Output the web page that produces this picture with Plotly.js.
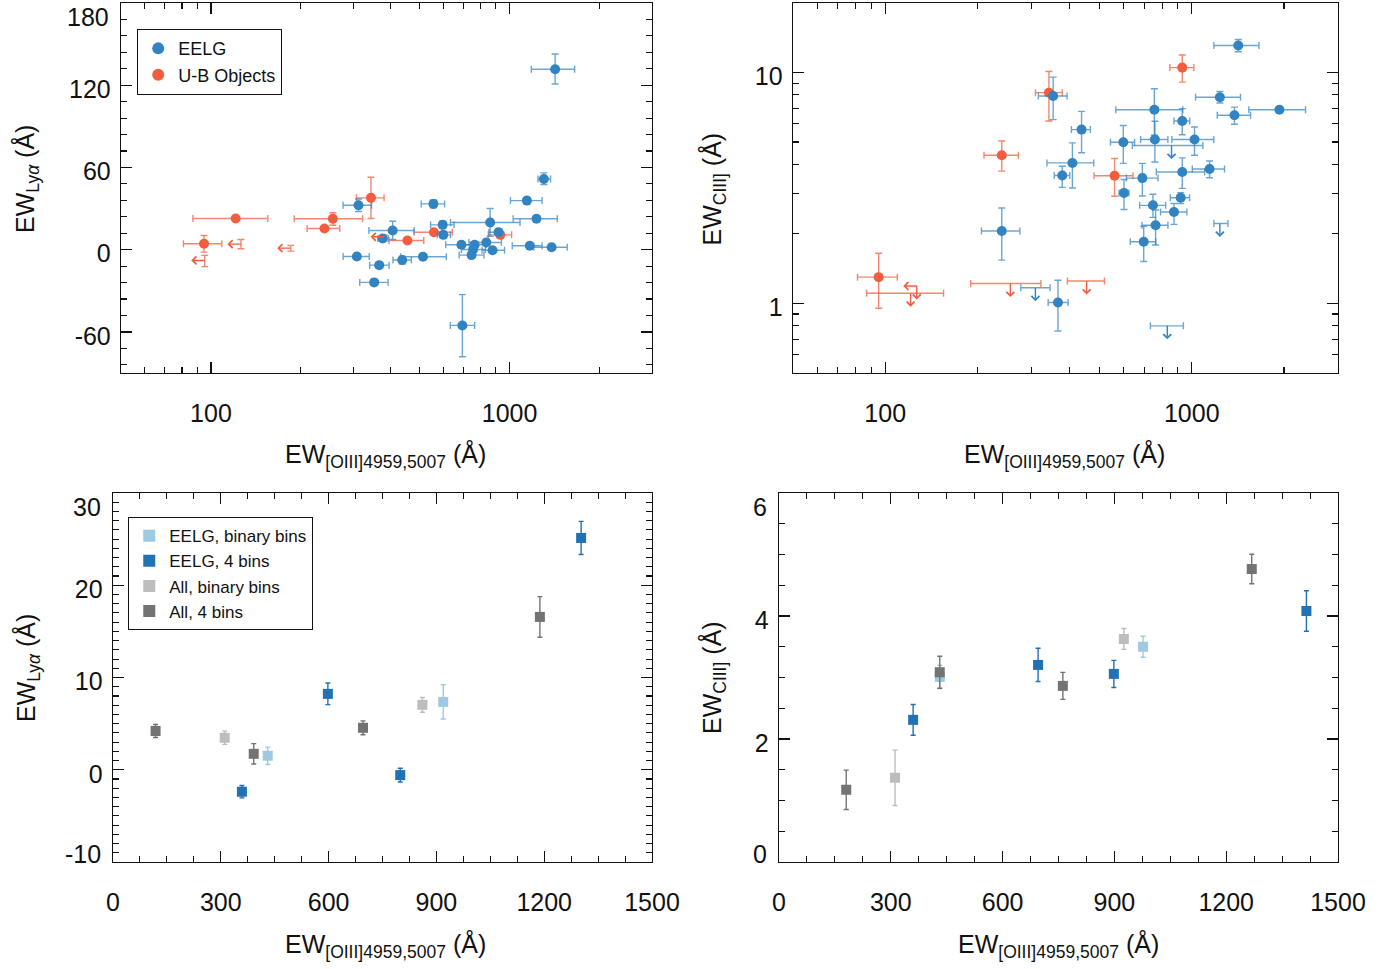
<!DOCTYPE html>
<html><head><meta charset="utf-8">
<script src="https://cdn.plot.ly/plotly-3.0.1.min.js"></script>
<style>html,body{margin:0;padding:0;background:#fff}#chart{width:1398px;height:969px}</style>
</head><body><div id="chart"></div>
<script>
// ---------- Top-left: EW[OIII] vs EW(Lya) ----------
const tlEelgX   = [312, 406, 308, 366, 352, 437, 513, 376, 556, 597, 600, 690, 764, 755, 746, 836, 877, 861, 918, 1143, 1303, 1231, 1169, 1383, 1421, 695];
const tlEelgXlo = [277, 338, 277, 340, 315, 407, 432, 362, 506, 544, 573, 611, 700, 690, 678, 731, 809, 634, 853, 1007, 1245, 1028, 1021, 1205, 1183, 633];
const tlEelgXhi = [345, 479, 339, 395, 392, 469, 614, 392, 606, 652, 634, 780, 835, 830, 821, 939, 962, 1084, 946, 1285, 1372, 1445, 1285, 1560, 1652, 764];
const tlEelgY   = [32.4, 14.0, -5.0, -11.3, -23.9, -7.6, -5.2, 8.2, 33.4, 18.1, 10.8, 3.6, 3.6, 0.1, -4.0, 5.2, -0.4, 19.8, 12.7, 35.8, 51.6, 22.5, 2.8, 1.8, 131.6, -55.3];
const tlEelgYlo = [27.8, 7.4, -7.0, -13.3, -26.0, -10.5, -7.0, 6.0, 30.5, 15.5, 8.5, 1.5, 1.5, -2.0, -6.0, 3.0, -2.4, 9.8, 10.5, 33.8, 47.5, 20.5, 0.8, -0.2, 120.9, -78.2];
const tlEelgYhi = [37.0, 20.7, -3.0, -9.3, -21.8, -4.7, -3.4, 10.4, 36.3, 20.7, 13.1, 5.7, 5.7, 2.2, -2.0, 7.4, 1.6, 30.0, 14.9, 37.8, 56.0, 24.5, 4.8, 3.8, 142.8, -32.8];

const tlUbX   = [121, 94.8, 256, 240, 343.5, 455, 558, 931];
const tlUbXlo = [87, 80.9, 190, 210, 307, 395, 479, 849];
const tlUbXhi = [155, 108.7, 322, 270, 380, 516, 643, 1016];
const tlUbY   = [22.7, 4.3, 22.5, 15.4, 37.8, 6.7, 12.7, 10.8];
const tlUbYlo = [22.7, -1.8, 17.8, 15.4, 22.7, 4.7, 11.2, 9.0];
const tlUbYhi = [22.7, 10.3, 26.9, 15.4, 52.8, 8.7, 14.2, 12.6];
// U-B objects with upper limits on EW[OIII] (arrow to the left)
const tlUbLimX   = [126, 95.3, 185, 380];
const tlUbLimY   = [4.0, -7.9, 1.1, 9.4];
const tlUbLimYlo = [0.6, -12.4, -1.1, 8.0];
const tlUbLimYhi = [7.4, -4.2, 3.1, 10.8];

// ---------- Top-right: EW[OIII] vs EW(CIII]) ----------
const trEelgX   = [353, 437, 408, 378, 240, 366, 1418, 1235, 1932, 1378, 755, 931, 598, 758, 1021, 1143, 931, 690, 601, 920, 747, 875, 762, 697];
const trEelgXlo = [316, 405, 337, 356, 206, 340, 1181, 1029, 1535, 1211, 565, 875, 543, 681, 861, 1004, 766, 612, 579, 851, 676, 791, 688, 630];
const trEelgXhi = [392, 467, 479, 400, 275, 395, 1656, 1442, 2350, 1556, 935, 985, 651, 836, 1180, 1279, 1101, 776, 624, 984, 822, 964, 836, 763];
const trEelgY   = [7.91, 5.66, 4.06, 3.58, 2.06, 1.01, 13.1, 7.81, 6.90, 6.53, 6.90, 6.17, 4.99, 5.13, 5.13, 3.82, 3.71, 3.49, 3.01, 2.87, 2.66, 2.49, 2.18, 1.85];
const trEelgYlo = [6.25, 4.49, 3.16, 3.18, 1.54, 0.76, 12.3, 7.38, 6.75, 5.97, 5.35, 5.38, 4.04, 4.10, 4.38, 3.50, 3.15, 2.92, 2.55, 2.71, 2.36, 2.20, 1.79, 1.52];
const trEelgYhi = [9.55, 6.79, 4.96, 3.93, 2.59, 1.26, 13.9, 8.28, 7.05, 7.08, 8.51, 6.98, 5.90, 6.15, 5.81, 4.14, 4.27, 4.04, 3.44, 3.02, 2.97, 2.71, 2.54, 2.16];
// EELGs with upper limits on EW(CIII])
const trEelgLimX   = [309, 859, 1235, 832];
const trEelgLimXlo = [277, 640, 1181, 733];
const trEelgLimXhi = [345, 1087, 1312, 939];
const trEelgLimY   = [1.17, 4.83, 2.22, 0.80];

const trUbX   = [342, 240, 560, 931, 95.2];
const trUbXlo = [309, 210, 480, 848, 81.2];
const trUbXhi = [378, 272, 643, 1016, 109.5];
const trUbY   = [8.18, 4.38, 3.57, 10.5, 1.30];
const trUbYlo = [6.17, 3.74, 2.91, 9.09, 0.953];
const trUbYhi = [10.1, 5.05, 4.24, 11.9, 1.65];
// U-B objects with upper limits on EW(CIII])
const trUbLimX   = [121, 256, 454];
const trUbLimXlo = [87, 190, 393];
const trUbLimXhi = [155, 322, 519];
const trUbLimY   = [1.107, 1.22, 1.25];
// U-B object with upper limits on both axes
const trUbBothLimX = [126.7];
const trUbBothLimY = [1.19];

// ---------- Bottom-left: stacked EW(Lya) ----------
const blEelgBinX = [430.6, 919];                const blEelgBinY = [1.52, 7.36];  const blEelgBinErr = [0.94, 1.85];
const blEelg4X   = [358.8, 598, 799.4, 1302.7]; const blEelg4Y = [-2.38, 8.23, -0.58, 25.13]; const blEelg4Err = [0.67, 1.17, 0.74, 1.8];
const blAllBinX  = [311, 861];                  const blAllBinY  = [3.47, 7.04];  const blAllBinErr = [0.72, 0.8];
const blAll4X    = [118.6, 391.7, 695.7, 1188]; const blAll4Y = [4.2, 1.73, 4.55, 16.57]; const blAll4Err = [0.7, 1.1, 0.75, 2.2];

// ---------- Bottom-right: stacked EW(CIII]) ----------
const brEelgBinX = [431.4, 976.9];                const brEelgBinY = [3.01, 3.50];  const brEelgBinErr = [0.19, 0.17];
const brEelg4X   = [360, 695.2, 898.5, 1415.2];   const brEelg4Y = [2.312, 3.205, 3.059, 4.082]; const brEelg4Err = [0.25, 0.27, 0.22, 0.33];
const brAllBinX  = [311.4, 925.3];                const brAllBinY  = [1.37, 3.627]; const brAllBinErr = [0.45, 0.17];
const brAll4X    = [180.5, 431.4, 761.7, 1268.5]; const brAll4Y = [1.175, 3.086, 2.864, 4.764]; const brAll4Err = [0.32, 0.26, 0.22, 0.24];

// ---------- Ticks ----------
const logXTicks = [100, 1000];      const logXLabels = ['100', '1000'];
const tlYTicks = [-60, 0, 60, 120, 180]; const tlYLabels = ['-60', '0', '60', '120', '180'];
const trYTicks = [1, 10];            const trYLabels = ['1', '10'];
const linXTicks = [0, 300, 600, 900, 1200, 1500]; const linXLabels = ['0', '300', '600', '900', '1200', '1500'];
const blYTicks = [-10, 0, 10, 20, 30]; const blYLabels = ['-10', '0', '10', '20', '30'];
const brYTicks = [0, 2, 4, 6];       const brYLabels = ['0', '2', '4', '6'];

const legendNames = ['EELG', 'U-B Objects', 'EELG, binary bins', 'EELG, 4 bins', 'All, binary bins', 'All, 4 bins'];

// ---------- Styles ----------
const FONT = '"Liberation Sans", Arial, Helvetica, sans-serif';
const BLUE = '#3283c1', BLUE_ERR = 'rgba(50,131,193,0.72)';
const RED = '#f35d3f', RED_ERR = 'rgba(243,93,63,0.75)';
const C_EB = '#9ecae1', C_E4 = '#2171b5', C_AB = '#bdbdbd', C_A4 = '#737373';

const plus = (v, hi) => hi.map((h, i) => h - v[i]);
const minus = (v, lo) => lo.map((l, i) => v[i] - l);
const errX = (x, lo, hi, c) => ({type: 'data', symmetric: false, array: plus(x, hi), arrayminus: minus(x, lo), color: c, thickness: 1.4, width: 3.5});
const errY = (y, lo, hi, c) => ({type: 'data', symmetric: false, array: plus(y, hi), arrayminus: minus(y, lo), color: c, thickness: 1.4, width: 3.5});

const traces = [];
// top-left
traces.push({type: 'scatter', mode: 'markers', x: tlUbLimX, y: tlUbLimY, xaxis: 'x', yaxis: 'y', showlegend: false, hoverinfo: 'skip',
  marker: {size: 1, color: 'rgba(0,0,0,0)'}, error_y: errY(tlUbLimY, tlUbLimYlo, tlUbLimYhi, RED_ERR)});
traces.push({type: 'scatter', mode: 'markers', name: legendNames[1], x: tlUbX, y: tlUbY, xaxis: 'x', yaxis: 'y', legendrank: 2,
  marker: {size: 10, color: RED}, error_x: errX(tlUbX, tlUbXlo, tlUbXhi, RED_ERR), error_y: errY(tlUbY, tlUbYlo, tlUbYhi, RED_ERR)});
traces.push({type: 'scatter', mode: 'markers', name: legendNames[0], x: tlEelgX, y: tlEelgY, xaxis: 'x', yaxis: 'y', legendrank: 1,
  marker: {size: 10, color: BLUE}, error_x: errX(tlEelgX, tlEelgXlo, tlEelgXhi, BLUE_ERR), error_y: errY(tlEelgY, tlEelgYlo, tlEelgYhi, BLUE_ERR)});
// top-right
traces.push({type: 'scatter', mode: 'markers', x: trUbLimX, y: trUbLimY, xaxis: 'x2', yaxis: 'y2', showlegend: false, hoverinfo: 'skip',
  marker: {size: 1, color: 'rgba(0,0,0,0)'}, error_x: errX(trUbLimX, trUbLimXlo, trUbLimXhi, RED_ERR)});
traces.push({type: 'scatter', mode: 'markers', x: trUbX, y: trUbY, xaxis: 'x2', yaxis: 'y2', showlegend: false,
  marker: {size: 10, color: RED}, error_x: errX(trUbX, trUbXlo, trUbXhi, RED_ERR), error_y: errY(trUbY, trUbYlo, trUbYhi, RED_ERR)});
traces.push({type: 'scatter', mode: 'markers', x: trEelgLimX, y: trEelgLimY, xaxis: 'x2', yaxis: 'y2', showlegend: false, hoverinfo: 'skip',
  marker: {size: 1, color: 'rgba(0,0,0,0)'}, error_x: errX(trEelgLimX, trEelgLimXlo, trEelgLimXhi, BLUE_ERR)});
traces.push({type: 'scatter', mode: 'markers', x: trEelgX, y: trEelgY, xaxis: 'x2', yaxis: 'y2', showlegend: false,
  marker: {size: 10, color: BLUE}, error_x: errX(trEelgX, trEelgXlo, trEelgXhi, BLUE_ERR), error_y: errY(trEelgY, trEelgYlo, trEelgYhi, BLUE_ERR)});
// bottom panels
const sq = (x, y, e, c, name, xa, ya, show) => ({type: 'scatter', mode: 'markers', name: name, x: x, y: y, xaxis: xa, yaxis: ya,
  showlegend: show, legend: 'legend2', marker: {symbol: 'square', size: 10, color: c},
  error_y: {type: 'data', array: e, color: c, thickness: 1.4, width: 2.5}});
traces.push(sq(blEelgBinX, blEelgBinY, blEelgBinErr, C_EB, legendNames[2], 'x3', 'y3', true));
traces.push(sq(blEelg4X, blEelg4Y, blEelg4Err, C_E4, legendNames[3], 'x3', 'y3', true));
traces.push(sq(blAllBinX, blAllBinY, blAllBinErr, C_AB, legendNames[4], 'x3', 'y3', true));
traces.push(sq(blAll4X, blAll4Y, blAll4Err, C_A4, legendNames[5], 'x3', 'y3', true));
traces.push(sq(brEelgBinX, brEelgBinY, brEelgBinErr, C_EB, legendNames[2], 'x4', 'y4', false));
traces.push(sq(brEelg4X, brEelg4Y, brEelg4Err, C_E4, legendNames[3], 'x4', 'y4', false));
traces.push(sq(brAllBinX, brAllBinY, brAllBinErr, C_AB, legendNames[4], 'x4', 'y4', false));
traces.push(sq(brAll4X, brAll4Y, brAll4Err, C_A4, legendNames[5], 'x4', 'y4', false));

// ---------- Axes ----------
function linMinor(lo, hi, step, majors) {
  const v = [];
  for (let t = Math.ceil(lo / step) * step; t <= hi + 1e-9; t += step) {
    const r = Math.round(t * 1000) / 1000;
    if (!majors.some(m => Math.abs(m - r) < 1e-9)) v.push(r);
  }
  return v;
}
function logMinor(lo, hi) {
  const v = [];
  for (let e = -2; e < 5; e++) for (let d = 2; d <= 9; d++) {
    const t = d * Math.pow(10, e);
    if (t >= lo * 0.999 && t <= hi * 1.001) v.push(t);
  }
  return v;
}

const base = {showline: true, linecolor: '#111', linewidth: 1.3, mirror: 'allticks', ticks: 'inside', ticklen: 11,
  tickwidth: 1.3, tickcolor: '#111', showgrid: false, zeroline: false, tickmode: 'array',
  tickfont: {family: FONT, size: 25, color: '#111'}};
const minor = vals => ({tickmode: 'array', tickvals: vals, ticks: 'inside', ticklen: 6, tickwidth: 1.1, tickcolor: '#111', showgrid: false});
const xAx = (o) => Object.assign({}, base, {ticklabelstandoff: 18}, o);
const yAx = (o) => Object.assign({}, base, {ticklabelstandoff: 4, ticklabelshift: 4}, o);

const annotations = [];
// labels that sit on the top/bottom edge of a y axis are drawn nudged inward, as in the original figure
function edgeY(yref, xLeft, ticks, labels, range) {
  return labels.map((t, i) => {
    const v = ticks[i];
    const atTop = Math.abs(v - range[1]) < 1e-9, atBot = Math.abs(v - range[0]) < 1e-9;
    if (!atTop && !atBot) return t;
    annotations.push({xref: 'paper', yref: yref, x: xLeft, y: v, text: t, showarrow: false, xanchor: 'right', yanchor: 'middle',
      xshift: -10, yshift: atTop ? -14 : 8, font: {family: FONT, size: 25, color: '#111'}});
    return '';
  });
}

const dTopY = [0.6151, 0.9969], dBotY = [0.1104, 0.4912];
const tlYRange = [-90, 180], blYRange = [-10, 30], brYRange = [0, 6];
const layout = {
  width: 1398, height: 969, margin: {l: 0, r: 0, t: 0, b: 0}, paper_bgcolor: '#fff', plot_bgcolor: '#fff',
  font: {family: FONT, color: '#111'}, showlegend: true, hovermode: false,
  xaxis: xAx({type: 'log', domain: [0.0866, 0.4664], anchor: 'y', range: [Math.log10(50), Math.log10(3000)],
    tickvals: logXTicks, ticktext: logXLabels, minor: minor(logMinor(50, 3000))}),
  yaxis: yAx({domain: dTopY, anchor: 'x', range: tlYRange, tickvals: tlYTicks, ticktext: edgeY('y', 0.0866, tlYTicks, tlYLabels, tlYRange),
    minor: minor(linMinor(-90, 180, 12, tlYTicks))}),
  xaxis2: xAx({type: 'log', domain: [0.5672, 0.9571], anchor: 'y2', range: [Math.log10(50), Math.log10(3000)],
    tickvals: logXTicks, ticktext: logXLabels, minor: minor(logMinor(50, 3000))}),
  yaxis2: yAx({type: 'log', domain: dTopY, anchor: 'x2', range: [Math.log10(0.5), Math.log10(20)],
    tickvals: trYTicks, ticktext: trYLabels, minor: minor(logMinor(0.5, 20))}),
  xaxis3: xAx({domain: [0.0808, 0.4664], anchor: 'y3', range: [0, 1500], tickvals: linXTicks, ticktext: linXLabels,
    minor: minor(linMinor(0, 1500, 75, linXTicks))}),
  yaxis3: yAx({domain: dBotY, anchor: 'x3', range: blYRange, tickvals: blYTicks, ticktext: edgeY('y3', 0.0808, blYTicks, blYLabels, blYRange),
    minor: minor(linMinor(-10, 30, 1, blYTicks))}),
  xaxis4: xAx({domain: [0.5572, 0.9571], anchor: 'y4', range: [0, 1500], tickvals: linXTicks, ticktext: linXLabels,
    minor: minor(linMinor(0, 1500, 75, linXTicks))}),
  yaxis4: yAx({domain: dBotY, anchor: 'x4', range: brYRange, tickvals: brYTicks, ticktext: edgeY('y4', 0.5572, brYTicks, brYLabels, brYRange),
    minor: minor(linMinor(0, 6, 0.5, brYTicks))}),
  legend: {x: 0.098, y: 0.9701, xanchor: 'left', yanchor: 'top', bgcolor: '#fff', bordercolor: '#111', borderwidth: 1.2,
    font: {family: FONT, size: 18, color: '#111'}, tracegroupgap: 0, itemsizing: 'constant'},
  legend2: {x: 0.0916, y: 0.4665, xanchor: 'left', yanchor: 'top', bgcolor: '#fff', bordercolor: '#111', borderwidth: 1.2,
    font: {family: FONT, size: 17, color: '#111'}, tracegroupgap: 0, itemsizing: 'constant'},
  annotations: annotations
};

// axis titles
const tOIII = 'EW<sub>[OIII]4959,5007</sub> (Å)';
const tLya = 'EW<sub>Ly<i>α</i></sub> (Å)';
const tCIII = 'EW<sub>CIII]</sub> (Å)';
const title = (text, x, y, rot) => ({xref: 'paper', yref: 'paper', x: x, y: y, text: text, showarrow: false,
  xanchor: 'center', yanchor: 'middle', textangle: rot ? -90 : 0, font: {family: FONT, size: 25, color: '#111'}});
annotations.push(
  title(tOIII, 0.2754, 0.5295, false), title(tOIII, 0.7618, 0.5295, false),
  title(tOIII, 0.2754, 0.0240, false), title(tOIII, 0.7568, 0.0240, false),
  title(tLya, 0.0193, 0.8153, true), title(tCIII, 0.5100, 0.8055, true),
  title(tLya, 0.0193, 0.3106, true), title(tCIII, 0.5100, 0.3013, true)
);

// limit arrows
const arrow = (xa, ya, x, y, dx, dy, color) => ({xref: xa, yref: ya, x: x, y: y, ax: dx, ay: dy, axref: 'pixel', ayref: 'pixel',
  text: '', showarrow: true, arrowside: 'start', startarrowhead: 4, startarrowsize: 1.1, arrowwidth: 1.4,
  arrowcolor: color, standoff: 0, startstandoff: 0});
tlUbLimX.forEach((v, i) => annotations.push(arrow('x', 'y', Math.log10(v), tlUbLimY[i], -15, 0, RED)));
trUbLimX.forEach((v, i) => annotations.push(arrow('x2', 'y2', Math.log10(v), Math.log10(trUbLimY[i]), 0, 15, RED)));
trEelgLimX.forEach((v, i) => annotations.push(arrow('x2', 'y2', Math.log10(v), Math.log10(trEelgLimY[i]), 0, 15, BLUE)));
trUbBothLimX.forEach((v, i) => {
  annotations.push(arrow('x2', 'y2', Math.log10(v), Math.log10(trUbBothLimY[i]), 0, 15, RED));
  annotations.push(arrow('x2', 'y2', Math.log10(v), Math.log10(trUbBothLimY[i]), -15, 0, RED));
});

Plotly.newPlot('chart', traces, layout, {staticPlot: true, displayModeBar: false});
</script>
</body></html>
